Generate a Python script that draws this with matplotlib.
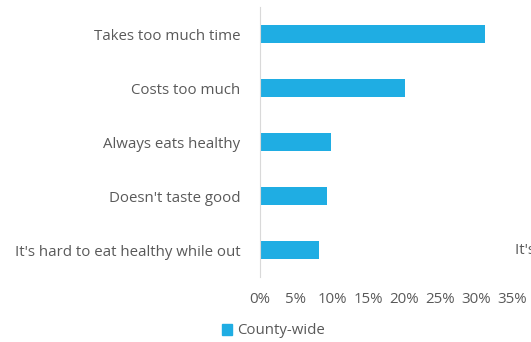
import matplotlib.pyplot as plt
from matplotlib.patches import Patch
from matplotlib.ticker import PercentFormatter

# Reasons for not eating healthy (share of respondents)
categories = ["Takes too much time", "Costs too much", "Always eats healthy",
              "Doesn't taste good", "It's hard to eat healthy while out"]
county_wide = [31.3, 20.1, 9.8, 9.3, 8.2]
x_ticks = [0, 5, 10, 15, 20, 25, 30, 35]
series_name = "County-wide"

bar_color = "#1FADE3"
text_color = "#595959"
fs = 10.8

plt.rcParams['font.family'] = ['Open Sans', 'DejaVu Sans']

fig = plt.figure(figsize=(5.31, 3.42), dpi=100)
ax = fig.add_axes([260 / 531, 1 - 277 / 342, 252 / 531, 270 / 342])

ypos = range(len(categories))
ax.barh(ypos, county_wide, height=0.35, color=bar_color)
ax.set_ylim(len(categories) - 0.5, -0.5)
ax.set_xlim(0, 35)
ax.set_yticks(list(ypos))
ax.set_yticklabels(categories, fontsize=fs, color=text_color)
ax.set_xticks(x_ticks)
ax.xaxis.set_major_formatter(PercentFormatter(decimals=0))
ax.tick_params(axis='x', labelsize=fs, labelcolor=text_color, length=0, pad=11)
ax.tick_params(axis='y', length=0, pad=14)

for s in ['top', 'right', 'bottom']:
    ax.spines[s].set_visible(False)
ax.spines['left'].set_color("#D9D9D9")

# legend below the axis
fig.legend(handles=[Patch(color=bar_color, label=series_name)],
           loc='center left', bbox_to_anchor=(222 / 531, 1 - 331 / 342),
           frameon=False, fontsize=fs, handlelength=0.65, handleheight=0.75,
           handletextpad=0.35, labelcolor=text_color, borderaxespad=0,
           borderpad=0)

# neighbouring label running off the right edge
fig.text(515 / 531, 1 - 250 / 342, "It's hard to eat healthy while out",
         fontsize=fs, color=text_color, va='center', ha='left')

fig.savefig("out.png", dpi=100)
